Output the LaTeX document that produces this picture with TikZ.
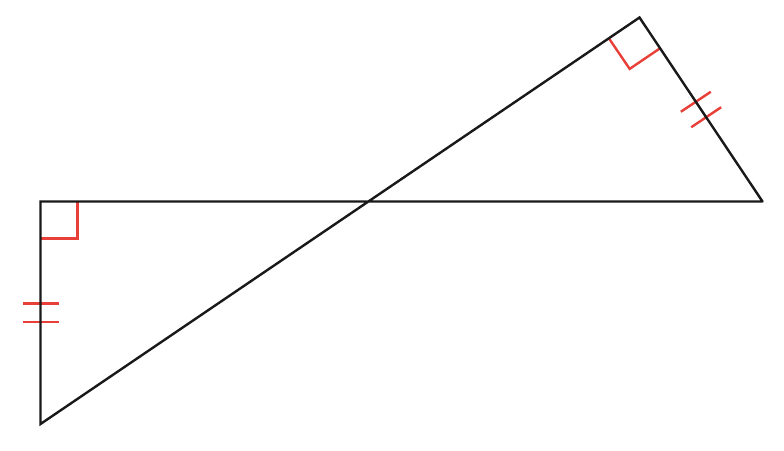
\documentclass[tikz,border=0pt]{standalone}
\usetikzlibrary{calc}
\definecolor{mk}{RGB}{232,64,56}
\begin{document}
\begin{tikzpicture}[x=1pt,y=-1pt,
  edge/.style={line width=2.4pt,black!90,line join=miter,line cap=round},
  redmark/.style={line width=2.4pt,mk}]
\useasboundingbox (0,0) rectangle (784,450);
\coordinate (A) at (40.5,201.5);
\coordinate (B) at (40.5,424);
\coordinate (C) at (762.5,201.5);
\coordinate (D) at (639.5,17.5);
% red markers
\draw[redmark] ($(A)+(37,0)$) -- ($(A)+(37,37)$) -- ($(A)+(0,37)$);
\coordinate (p) at ($(D)!37pt!(B)$);
\coordinate (r) at ($(D)!37pt!(C)$);
\coordinate (q) at ($(p)!37pt!90:(B)$);
\draw[redmark] (p) -- (q) -- (r);
\coordinate (M1) at ($(A)!0.5!(B)$);
\draw[redmark] ($(M1)+(-18,-9.3)$) -- ($(M1)+(18,-9.3)$);
\draw[redmark] ($(M1)+(-18,9.3)$) -- ($(M1)+(18,9.3)$);
\coordinate (M2) at ($(D)!0.5!(C)$);
\coordinate (t1) at ($(M2)!9.3pt!(D)$);
\coordinate (t2) at ($(M2)!9.3pt!(C)$);
\draw[redmark] ($(t1)!18pt!90:(D)$) -- ($(t1)!18pt!-90:(D)$);
\draw[redmark] ($(t2)!18pt!90:(C)$) -- ($(t2)!18pt!-90:(C)$);
% triangles
\draw[edge] (C) -- (A) -- (B) -- (D) -- (C);
\end{tikzpicture}
\end{document}
